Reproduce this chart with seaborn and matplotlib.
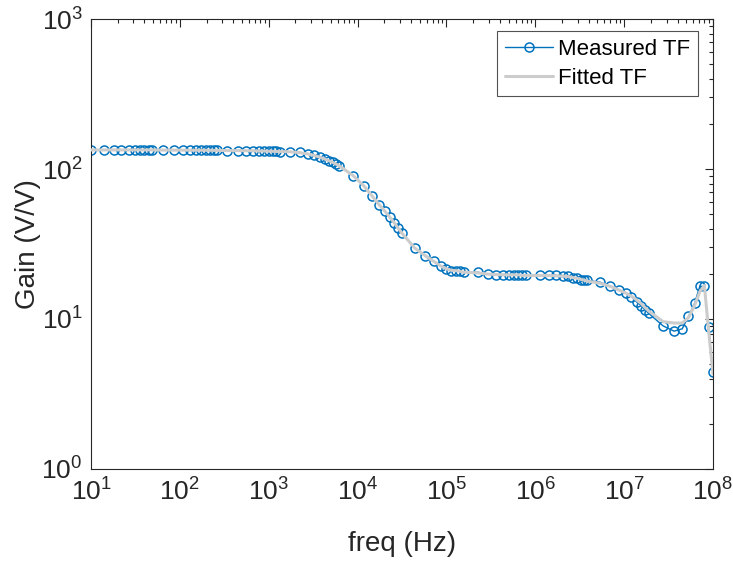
import numpy as np
import pandas as pd
import matplotlib
matplotlib.use("Agg")
import matplotlib.pyplot as plt
import matplotlib.ticker as mticker
import seaborn as sns

# ---------------- data ----------------
freq_hz = [
    10, 14, 18, 22, 27, 31, 36, 40, 45, 49,
    65, 87, 109, 131, 153, 175, 197, 219, 241, 263,
    340, 450, 560, 670, 780, 890, 1000, 1110, 1220, 1330,
    1750, 2250, 2750, 3250, 3750, 4250, 4750, 5250, 5750, 6250,
    8900, 11700, 14500, 17300, 20100, 22900, 25700, 28500, 31300,
    44000, 58000, 72000, 86000, 100000, 114000, 128000, 142000, 156000,
    226000, 296000, 366000, 436000, 506000, 576000, 646000, 716000, 786000,
    1.13e6, 1.43e6, 1.73e6, 2.03e6, 2.33e6, 2.63e6, 2.93e6, 3.23e6, 3.53e6, 3.83e6,
    5.35e6, 7.0e6, 8.7e6, 10.4e6, 12.1e6, 13.8e6, 15.5e6, 17.2e6, 18.9e6,
    2.74e7, 3.64e7, 4.5e7, 5.3e7, 6.2e7, 7.1e7, 8.0e7, 8.9e7, 1.0e8,
]

gain_measured = [
    134, 134, 134, 134, 134, 134, 134, 134, 134, 134,
    133.6, 133.6, 133.6, 133.4, 133.4, 133.4, 133.3, 133.3, 133.1, 133.1,
    132.6, 132.6, 132.4, 132.2, 131.9, 131.7, 131.4, 131.2, 130.9, 130.7,
    130.2, 129.0, 125.4, 123.1, 119.5, 116.0, 113.6, 110.7, 107.7, 105.3,
    90.4, 77.5, 66.4, 57.7, 52.7, 48.0, 43.7, 40.4, 37.4,
    29.7, 26.2, 24.3, 22.5, 21.7, 21.0, 21.0, 20.9, 20.5,
    20.5, 19.9, 19.7, 19.7, 19.7, 19.7, 19.7, 19.5, 19.5,
    19.5, 19.5, 19.5, 19.3, 19.3, 18.9, 18.7, 18.3, 18.1, 18.1,
    17.6, 16.5, 15.7, 15.0, 14.1, 13.0, 12.3, 11.5, 10.9,
    9.0, 8.3, 8.6, 10.4, 12.7, 16.5, 16.5, 8.8, 4.4,
]

gain_fitted = [
    134, 134, 134, 134, 134, 134, 134, 134, 134, 134,
    133.6, 133.6, 133.6, 133.4, 133.4, 133.4, 133.3, 133.3, 133.1, 133.1,
    132.6, 132.6, 132.4, 132.2, 131.9, 131.7, 131.4, 131.2, 130.9, 130.7,
    130.2, 128.4, 126.0, 123.1, 120.1, 116.6, 113.6, 110.7, 107.7, 104.8,
    90.4, 77.5, 66.4, 58.3, 52.7, 48.0, 44.0, 40.5, 37.6,
    29.7, 26.4, 24.2, 22.6, 21.6, 21.1, 21.0, 20.8, 20.5,
    20.3, 19.9, 19.8, 19.7, 19.7, 19.7, 19.7, 19.5, 19.5,
    19.5, 19.5, 19.4, 19.3, 19.2, 18.9, 18.7, 18.4, 18.2, 17.9,
    17.3, 16.5, 15.6, 14.9, 14.2, 13.4, 12.7, 11.9, 11.3,
    9.6, 9.4, 9.4, 10.2, 12.3, 15.2, 16.7, 8.5, 4.3,
]

x_ticks = [1e1, 1e2, 1e3, 1e4, 1e5, 1e6, 1e7, 1e8]
y_ticks = [1e0, 1e1, 1e2, 1e3]

x_label = "freq (Hz)"
y_label = "Gain (V/V)"
series_names = ["Measured TF", "Fitted TF"]

# ---------------- style ----------------
sns.set_style("white")
plt.rcParams["font.family"] = ["Liberation Sans", "DejaVu Sans"]
plt.rcParams["mathtext.fontset"] = "custom"
plt.rcParams["mathtext.rm"] = "Liberation Sans"
plt.rcParams["mathtext.it"] = "Liberation Sans:italic"

axis_color = "#262626"
blue = "#0072BD"
gray = "#CCCCCC"

fig = plt.figure(figsize=(7.33, 5.80), dpi=100)
ax_top, ax_bot = 19, 469
ax = fig.add_axes([91 / 733, (580 - ax_bot) / 580, (713 - 91) / 733, (ax_bot - ax_top) / 580])

df_meas = pd.DataFrame({"freq": freq_hz, "gain": gain_measured})
df_fit = pd.DataFrame({"freq": freq_hz, "gain": gain_fitted})

sns.lineplot(data=df_meas, x="freq", y="gain", ax=ax, color=blue, linewidth=1.0,
             marker="o", markersize=6.5, markerfacecolor="none",
             markeredgecolor=blue, markeredgewidth=1.1,
             label=series_names[0], zorder=2)
sns.lineplot(data=df_fit, x="freq", y="gain", ax=ax, color=gray, linewidth=2.2,
             label=series_names[1], zorder=3)

ax.set_xscale("log")
ax.set_yscale("log")
ax.set_xlim(10, 1e8)
ax.set_ylim(1, 1000)

def pow_fmt(v, pos):
    e = int(round(np.log10(v)))
    return r"$\mathregular{10^{%d}}$" % e

ax.xaxis.set_major_locator(mticker.FixedLocator(x_ticks))
ax.yaxis.set_major_locator(mticker.FixedLocator(y_ticks))
ax.xaxis.set_major_formatter(mticker.FuncFormatter(pow_fmt))
ax.yaxis.set_major_formatter(mticker.FuncFormatter(pow_fmt))
ax.xaxis.set_minor_locator(mticker.LogLocator(base=10, subs=np.arange(2, 10), numticks=100))
ax.yaxis.set_minor_locator(mticker.LogLocator(base=10, subs=np.arange(2, 10), numticks=100))
ax.xaxis.set_minor_formatter(mticker.NullFormatter())
ax.yaxis.set_minor_formatter(mticker.NullFormatter())

ax.tick_params(which="both", direction="in", top=True, right=True,
               colors=axis_color, labelsize=19, width=0.8)
ax.tick_params(which="major", length=6)
ax.tick_params(which="minor", length=3)
ax.tick_params(axis="x", pad=7)
ax.tick_params(axis="y", pad=6)
for s in ax.spines.values():
    s.set_visible(True)
    s.set_color(axis_color)
    s.set_linewidth(0.8)

ax.set_xlabel(x_label, fontsize=20, color=axis_color, labelpad=18)
ax.set_ylabel(y_label, fontsize=20, color=axis_color, labelpad=0)

leg = ax.legend(loc="upper right", bbox_to_anchor=(0.976, 0.973), fontsize=16,
                frameon=True, fancybox=False, edgecolor="#262626",
                borderpad=0.35, handlelength=2.15, labelspacing=0.35,
                handletextpad=0.25, borderaxespad=0.0)
leg.get_frame().set_linewidth(0.8)
for t in leg.get_texts():
    t.set_color("black")

fig.savefig("out.png", dpi=100, facecolor="white")
